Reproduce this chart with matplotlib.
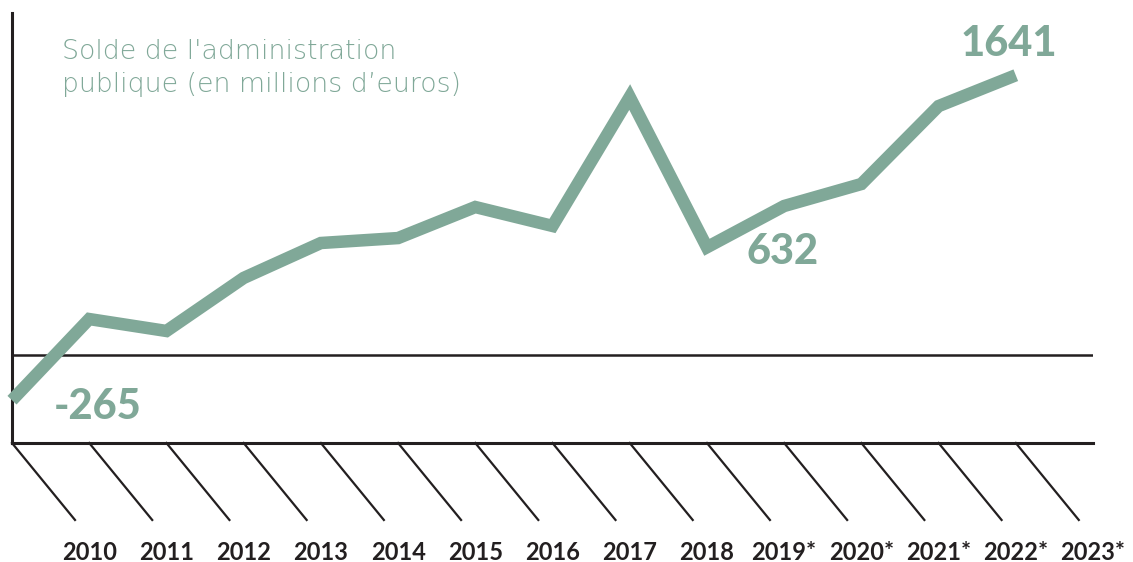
import numpy as np
import matplotlib.pyplot as plt

# Solde de l'administration publique, millions d'euros
years = ["2010", "2011", "2012", "2013", "2014", "2015", "2016", "2017",
         "2018", "2019*", "2020*", "2021*", "2022*", "2023*"]
values = [-265, 211, 141, 452, 657, 686, 868, 757, 1513, 632, 874, 1003, 1460, 1641]
labelled = {0: "-265", 9: "632", 13: "1641"}

green = "#80a898"
ink = "#231f20"

fig = plt.figure(figsize=(11.33, 5.62), dpi=100)
W, H = 1133, 562
ax = fig.add_axes([12 / W, 1 - 443 / H, (1093 - 12) / W, (443 - 13) / H])

x = np.arange(len(values))
ax.plot(x, values, color=green, lw=9, solid_joinstyle="miter",
        solid_capstyle="butt", clip_on=False, zorder=3)

ax.set_xlim(0, 14)
ax.set_ylim(-516, 2006)
ax.axhline(0, color=ink, lw=1.8, zorder=2)

for s in ["top", "right"]:
    ax.spines[s].set_visible(False)
ax.spines["left"].set_linewidth(2.2)
ax.spines["bottom"].set_linewidth(2.2)
ax.spines["left"].set_color(ink)
ax.spines["bottom"].set_color(ink)
ax.set_xticks([])
ax.set_yticks([])

# diagonal ticks and year labels under the axis
tr = ax.get_xaxis_transform()
for i, yr in enumerate(years):
    ax.plot([i, i + 0.816], [0, -0.179], color=ink, lw=1.6,
            transform=tr, clip_on=False)
    ax.text(i + 1.0, -0.255, yr, transform=tr, ha="center", va="center",
            fontsize=17, fontweight="bold", family="Lato", color=ink)

offsets = {0: (86, -7), 9: (76, -5), 13: (-7, 31)}
for i, txt in labelled.items():
    ax.annotate(txt, xy=(x[i], values[i]), xytext=offsets[i],
                textcoords="offset pixels", ha="center", va="center",
                fontsize=30, fontweight="black", family="Lato", color=green)

fig.text(62 / W, 1 - 68 / H, "Solde de l'administration\npublique (en millions d\u2019euros)",
         ha="left", va="center", fontsize=19.3, fontweight="light",
         family="DejaVu Sans", color=green, linespacing=1.42)

fig.savefig("out.png", dpi=100)
